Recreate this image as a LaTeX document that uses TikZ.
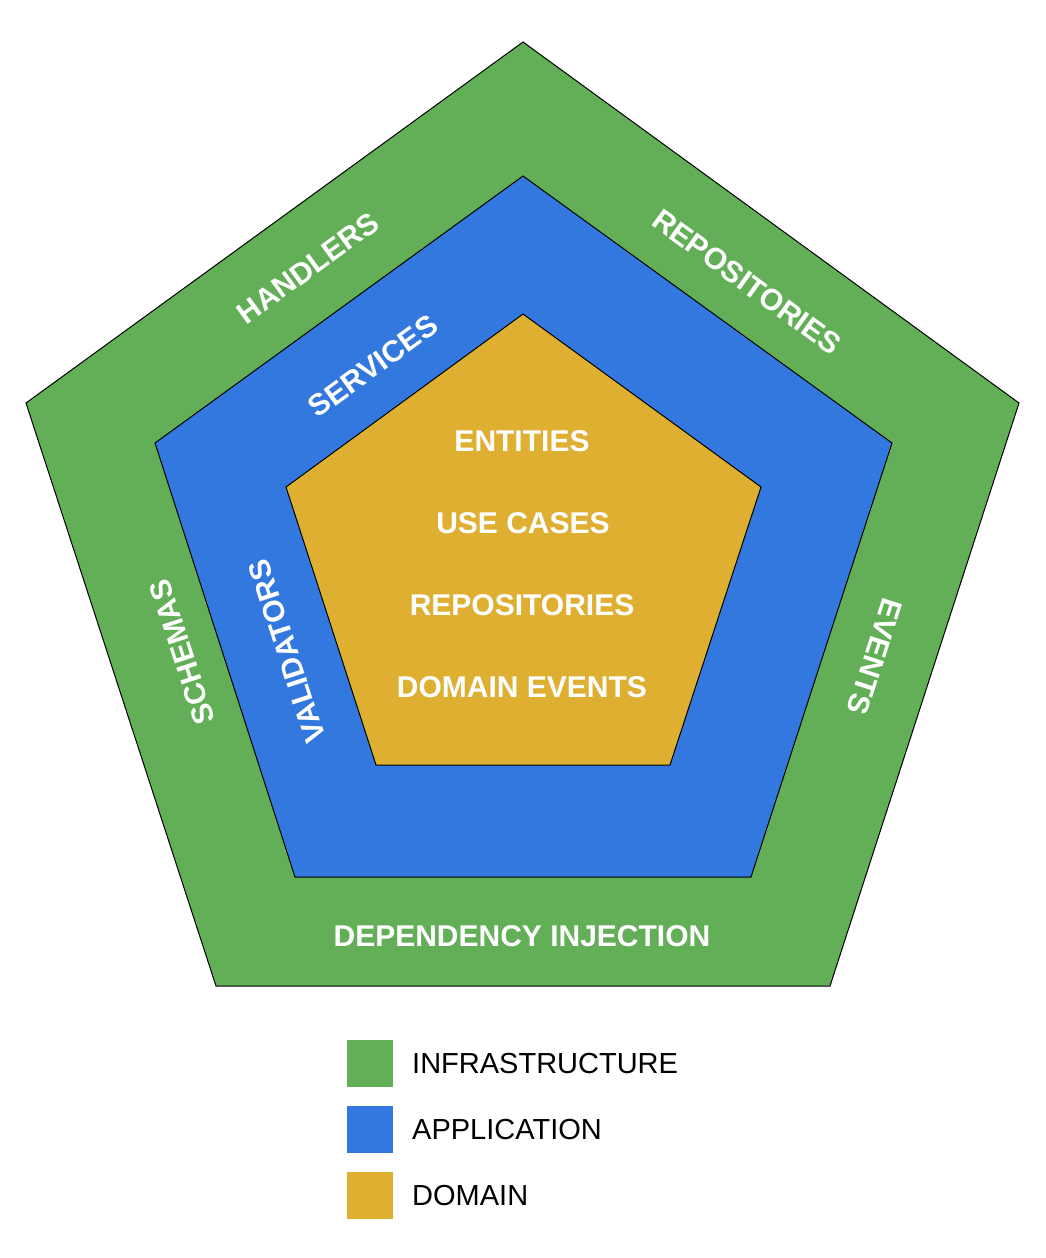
\documentclass[tikz,border=0pt]{standalone}
\usepackage{fontspec}
\setmainfont{Liberation Sans}
\begin{document}
\begin{tikzpicture}[x=1pt,y=-1pt,
  layer/.style={draw=black,line width=1pt,line join=miter},
  lbl/.style={text=white,font=\fontsize{30}{32}\selectfont\bfseries,inner sep=0pt},
  key/.style={minimum width=46pt,minimum height=47pt,inner sep=0pt,draw=none},
  keytext/.style={anchor=west,font=\fontsize{29}{31}\selectfont,inner sep=0pt,text=black}]
\definecolor{infra}{RGB}{99,175,88}
\definecolor{appl}{RGB}{51,120,222}
\definecolor{dom}{RGB}{223,175,49}
\useasboundingbox (0,0) rectangle (1046,1258);
% pentagons
\draw[layer,fill=infra] (523,42) -- (1019,403) -- (830,986) -- (216,986) -- (26,403) -- cycle;
\draw[layer,fill=appl] (523,176) -- (892,443) -- (751,877) -- (295,877) -- (155,443) -- cycle;
\draw[layer,fill=dom] (523,314) -- (761,487) -- (670,765) -- (376,765) -- (286,487) -- cycle;
% outer labels
\node[lbl,rotate=36] (handlers) at (308,268) {HANDLERS};
\node[lbl,rotate=-36] (repoout) at (747,282) {REPOSITORIES};
\node[lbl,rotate=108] (schemas) at (182,652) {SCHEMAS};
\node[lbl,rotate=-108] (events) at (875,657) {EVENTS};
\node[lbl] (di) at (522,936) {DEPENDENCY INJECTION};
% application labels
\node[lbl,rotate=36] (services) at (373,366) {SERVICES};
\node[lbl,rotate=108] (validators) at (287,651) {VALIDATORS};
% domain labels
\node[lbl] (entities) at (522,441) {ENTITIES};
\node[lbl] (usecases) at (523,523) {USE CASES};
\node[lbl] (repoin) at (522,605) {REPOSITORIES};
\node[lbl] (domev) at (522,687) {DOMAIN EVENTS};
% legend
\node[key,fill=infra] (kinfra) at (370,1063.5) {};
\node[key,fill=appl] (kappl) at (370,1129.5) {};
\node[key,fill=dom] (kdom) at (370,1195.5) {};
\node[keytext] (tinfra) at (412,1064) {INFRASTRUCTURE};
\node[keytext] (tappl) at (412,1130) {APPLICATION};
\node[keytext] (tdom) at (412,1196) {DOMAIN};
\end{tikzpicture}
\end{document}
